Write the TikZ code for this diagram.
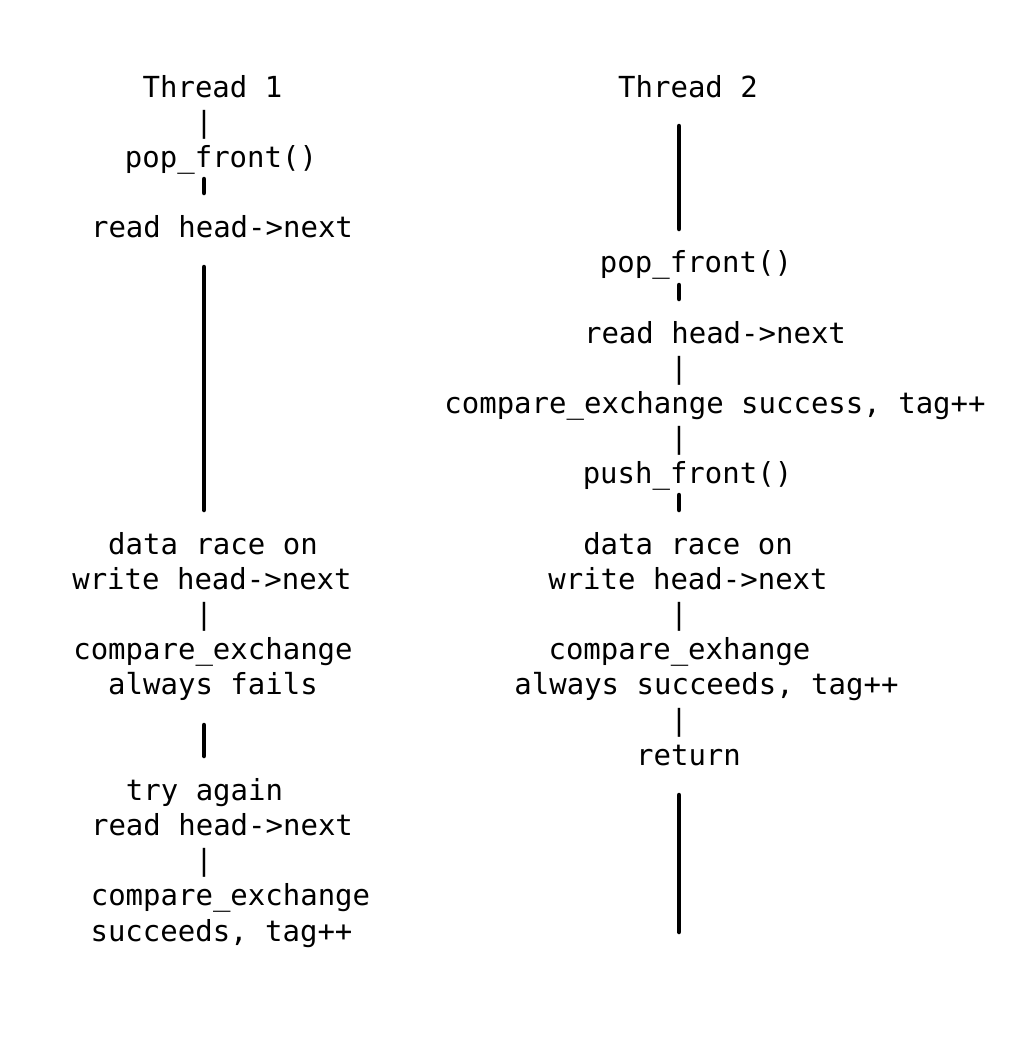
\documentclass[tikz,border=0pt]{standalone}
\usepackage{fontspec}
\setmonofont{DejaVu Sans Mono}
\tikzset{
  txt/.style={font=\fontsize{29}{35}\selectfont\ttfamily, anchor=base, inner sep=0pt},
  rail/.style={line width=4.5pt, line cap=round}
}
\begin{document}
\begin{tikzpicture}[x=1pt,y=-1pt]
\useasboundingbox (0,0) rectangle (1016,1044);
% Thread 1
\node[txt] (t1) at (212.5,97) {Thread 1};
\node[txt] (t1p1) at (204,132.2) {|};
\node[txt] (t1pop) at (221,167.3) {pop\_front()};
\node[txt] (t1read) at (222,237.7) {read head->next};
\node[txt] (t1race) at (213,554.2) {data race on};
\node[txt] (t1write) at (212,589.4) {write head->next};
\node[txt] (t1p2) at (204,624.6) {|};
\node[txt] (t1cmp) at (213,659.7) {compare\_exchange};
\node[txt] (t1fail) at (213,694.9) {always fails};
\node[txt] (t1try) at (204.5,800.4) {try again};
\node[txt] (t1read2) at (222,835.6) {read head->next};
\node[txt] (t1p3) at (204,870.7) {|};
\node[txt] (t1cmp2) at (230.5,905.9) {compare\_exchange};
\node[txt] (t1succ) at (221.5,941.1) {succeeds, tag++};
% Thread 2
\node[txt] (t2) at (688,97) {Thread 2};
\node[txt] (t2pop) at (696,272.9) {pop\_front()};
\node[txt] (t2read) at (715,343.2) {read head->next};
\node[txt] (t2p1) at (679,378.4) {|};
\node[txt] (t2cmp) at (715,413.5) {compare\_exchange success, tag++};
\node[txt] (t2p2) at (679,448.7) {|};
\node[txt] (t2push) at (687.5,483.9) {push\_front()};
\node[txt] (t2race) at (688,554.2) {data race on};
\node[txt] (t2write) at (688,589.4) {write head->next};
\node[txt] (t2p3) at (679,624.6) {|};
\node[txt] (t2cmp2) at (679.5,659.7) {compare\_exhange};
\node[txt] (t2succ) at (706.5,694.9) {always succeeds, tag++};
\node[txt] (t2p4) at (679,730.1) {|};
\node[txt] (t2ret) at (688.5,765.2) {return};
% rail end points
\coordinate (a1) at (204,179); \coordinate (a2) at (204,193);
\coordinate (b1) at (204,267); \coordinate (b2) at (204,510);
\coordinate (c1) at (204,725); \coordinate (c2) at (204,756);
\coordinate (d1) at (679,126); \coordinate (d2) at (679,229);
\coordinate (e1) at (679,285); \coordinate (e2) at (679,299);
\coordinate (f1) at (679,495); \coordinate (f2) at (679,510);
\coordinate (g1) at (679,795); \coordinate (g2) at (679,932);
\draw[rail] (a1) -- (a2);
\draw[rail] (b1) -- (b2);
\draw[rail] (c1) -- (c2);
\draw[rail] (d1) -- (d2);
\draw[rail] (e1) -- (e2);
\draw[rail] (f1) -- (f2);
\draw[rail] (g1) -- (g2);
\end{tikzpicture}
\end{document}
